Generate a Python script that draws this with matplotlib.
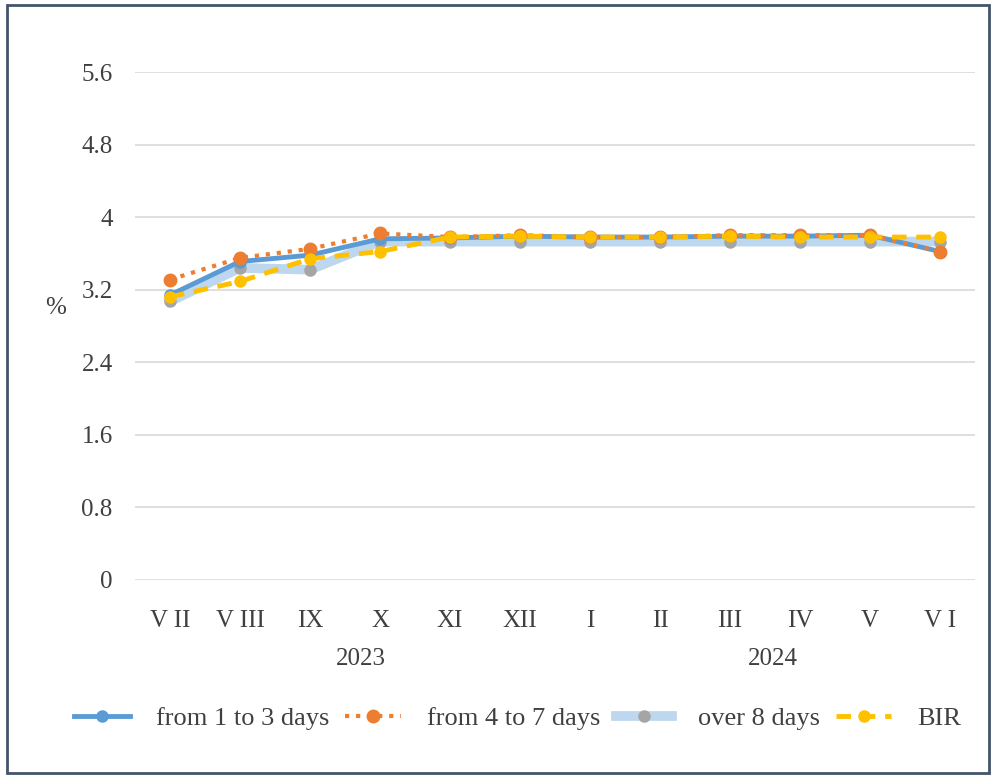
import matplotlib.pyplot as plt
from matplotlib.patches import Rectangle

months = ['V II', 'V III', 'IX', 'X', 'XI', 'XII', 'I', 'II', 'III', 'IV', 'V', 'V I']
d1_3 = [3.14, 3.51, 3.58, 3.76, 3.77, 3.79, 3.78, 3.78, 3.79, 3.79, 3.80, 3.62]
d4_7 = [3.31, 3.55, 3.65, 3.82, 3.78, 3.80, 3.78, 3.78, 3.80, 3.80, 3.80, 3.62]
over8 = [3.07, 3.44, 3.42, 3.73, 3.73, 3.73, 3.73, 3.73, 3.73, 3.73, 3.73, 3.73]
bir = [3.12, 3.29, 3.54, 3.62, 3.78, 3.79, 3.78, 3.78, 3.79, 3.78, 3.78, 3.78]
years = ['2023', '2024']
yticks = [0, 0.8, 1.6, 2.4, 3.2, 4, 4.8, 5.6]

plt.rcParams['font.family'] = ['Liberation Serif', 'DejaVu Serif']

fig = plt.figure(figsize=(9.92, 7.75), dpi=100)
ax = fig.add_axes([0.136, 0.252, 0.847, 0.655])
x = list(range(len(months)))

l3, = ax.plot(x, over8, '-', color='#bdd7ee', linewidth=7, zorder=2,
              marker='o', markersize=8, markerfacecolor='#a5a5a5', markeredgecolor='#a5a5a5')
l1, = ax.plot(x, d1_3, '-', color='#5b9bd5', linewidth=3.5, zorder=3,
              marker='o', markersize=8, markerfacecolor='#5b9bd5', markeredgecolor='#5b9bd5')
l2, = ax.plot(x, d4_7, ':', color='#ed7d31', linewidth=3, zorder=4,
              marker='o', markersize=9, markerfacecolor='#ed7d31', markeredgecolor='#ed7d31')
l4, = ax.plot(x, bir, '--', color='#ffc000', linewidth=3.5, zorder=5, dashes=(3, 2),
              marker='o', markersize=8, markerfacecolor='#ffc000', markeredgecolor='#ffc000')

ax.set_ylim(0, 5.6)
ax.set_xlim(-0.5, len(months) - 0.5)
ax.set_yticks(yticks)
ax.set_yticklabels(['0', '0.8', '1.6', '2.4', '3.2', '4', '4.8', '5.6'])
ax.set_xticks(x)
ax.set_xticklabels(months)
ax.tick_params(axis='y', length=0, labelsize=18, colors='#404040', pad=16)
ax.tick_params(axis='x', length=0, labelsize=18, colors='#404040', pad=22)
ax.grid(axis='y', color='#d9d9d9', linewidth=1.2)
ax.set_axisbelow(True)
for s in ax.spines.values():
    s.set_visible(False)

ax.text(-0.095, 3.0, '%', transform=ax.get_yaxis_transform(), fontsize=18, color='#404040',
        ha='center', va='center')
ax.text(2.73, -0.157, years[0], transform=ax.get_xaxis_transform(), fontsize=18,
        color='#404040', ha='center', va='center')
ax.text(8.61, -0.157, years[1], transform=ax.get_xaxis_transform(), fontsize=18,
        color='#404040', ha='center', va='center')

fig.legend([l1, l2, l3, l4], ['from 1 to 3 days', 'from 4 to 7 days', 'over 8 days', 'BIR'],
           loc='center', bbox_to_anchor=(0.522, 0.073), ncol=4, frameon=False,
           fontsize=19, handlelength=2.1, columnspacing=0.6, handletextpad=1.0,
           labelcolor='#404040')

fig.patches.append(Rectangle((0.007, 0.003), 0.99, 0.99, transform=fig.transFigure,
                             fill=False, edgecolor='#44546a', linewidth=2))

fig.savefig('out.png', dpi=100)
